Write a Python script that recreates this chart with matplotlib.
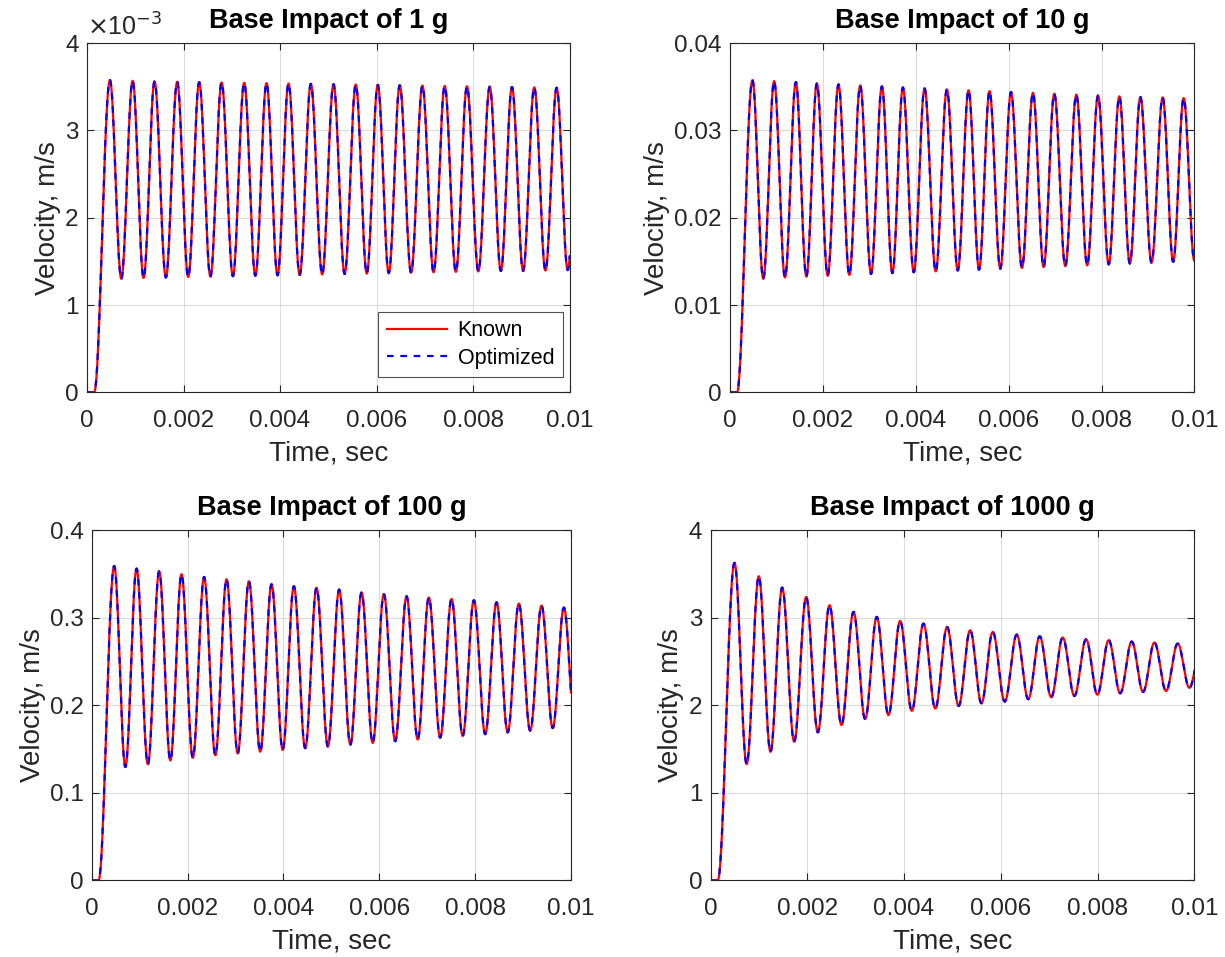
import numpy as np
import matplotlib
matplotlib.use("Agg")
import matplotlib.pyplot as plt

plt.rcParams['font.family'] = ['Liberation Sans', 'DejaVu Sans']

# values (time in ms, velocity in m/s)
# each panel: time when the curve leaves zero, peak times, peak values, trough values
# (trough i lies between peak i and peak i+1; the last peak is just past 0.01 s)
onset_1g = 0.15
t_peak_1g = [0.476, 0.946, 1.400, 1.869, 2.325, 2.789, 3.257, 3.720, 4.176, 4.638, 5.108,
             5.569, 6.025, 6.480, 6.950, 7.412, 7.873, 8.344, 8.805, 9.267, 9.731, 10.19]
v_peak_1g = [3.576e-3, 3.568e-3, 3.561e-3, 3.557e-3, 3.553e-3, 3.549e-3, 3.545e-3, 3.541e-3,
             3.537e-3, 3.533e-3, 3.529e-3, 3.525e-3, 3.521e-3, 3.517e-3, 3.513e-3, 3.509e-3,
             3.505e-3, 3.501e-3, 3.497e-3, 3.493e-3, 3.489e-3, 3.485e-3]
v_trough_1g = [1.30e-3, 1.31e-3, 1.315e-3, 1.32e-3, 1.325e-3, 1.33e-3, 1.335e-3, 1.34e-3,
               1.345e-3, 1.35e-3, 1.355e-3, 1.36e-3, 1.365e-3, 1.37e-3, 1.375e-3, 1.38e-3,
               1.385e-3, 1.39e-3, 1.39e-3, 1.395e-3, 1.40e-3]

onset_10g = 0.15
t_peak_10g = [0.481, 0.948, 1.416, 1.869, 2.334, 2.802, 3.269, 3.722, 4.188, 4.670, 5.136,
              5.588, 6.050, 6.523, 6.983, 7.457, 7.925, 8.384, 8.836, 9.317, 9.769, 10.23]
v_peak_10g = [0.03576, 0.03565, 0.03553, 0.03538, 0.03527, 0.03515, 0.03504, 0.03492,
              0.03481, 0.03470, 0.03460, 0.03450, 0.03440, 0.03430, 0.03420, 0.03410,
              0.03400, 0.03390, 0.03383, 0.03378, 0.03370, 0.03365]
v_trough_10g = [0.0130, 0.01315, 0.01325, 0.01335, 0.01345, 0.01355, 0.01365, 0.01375,
                0.01385, 0.01395, 0.01405, 0.01415, 0.01425, 0.01435, 0.01445, 0.01455,
                0.01465, 0.01475, 0.01485, 0.01495, 0.01505]

onset_100g = 0.14
t_peak_100g = [0.466, 0.933, 1.405, 1.871, 2.343, 2.812, 3.278, 3.751, 4.217, 4.691, 5.163,
               5.630, 6.096, 6.570, 7.035, 7.509, 7.975, 8.449, 8.914, 9.388, 9.854, 10.32]
v_peak_100g = [0.3592, 0.3562, 0.3531, 0.3497, 0.3466, 0.3440, 0.3417, 0.3383, 0.3360,
               0.3342, 0.3322, 0.3288, 0.3269, 0.3246, 0.3231, 0.3215, 0.3200, 0.3177,
               0.3162, 0.3139, 0.3116, 0.3100]
v_trough_100g = [0.1295, 0.1326, 0.137, 0.140, 0.143, 0.145, 0.147, 0.149, 0.151, 0.153,
                 0.155, 0.157, 0.159, 0.161, 0.163, 0.165, 0.167, 0.169, 0.171, 0.174, 0.176]

onset_1000g = 0.15
t_peak_1000g = [0.496, 0.998, 1.481, 1.977, 2.459, 2.955, 3.436, 3.919, 4.401, 4.890,
                5.366, 5.833, 6.329, 6.804, 7.279, 7.762, 8.229, 8.705, 9.174, 9.655, 10.14]
v_peak_1000g = [3.627, 3.474, 3.345, 3.238, 3.143, 3.067, 3.010, 2.963, 2.933, 2.895,
                2.857, 2.838, 2.808, 2.789, 2.774, 2.754, 2.743, 2.728, 2.717, 2.705, 2.69]
v_trough_1000g = [1.328, 1.469, 1.584, 1.691, 1.775, 1.843, 1.889, 1.937, 1.963, 1.992,
                  2.023, 2.042, 2.069, 2.092, 2.107, 2.122, 2.137, 2.153, 2.164, 2.20]

x_ticks = [0, 0.002, 0.004, 0.006, 0.008, 0.01]
x_tick_labels = ['0', '0.002', '0.004', '0.006', '0.008', '0.01']

panels = [
    ("Base Impact of 1 g", onset_1g, t_peak_1g, v_peak_1g, v_trough_1g,
     [0, 1e-3, 2e-3, 3e-3, 4e-3], ['0', '1', '2', '3', '4']),
    ("Base Impact of 10 g", onset_10g, t_peak_10g, v_peak_10g, v_trough_10g,
     [0, 0.01, 0.02, 0.03, 0.04], ['0', '0.01', '0.02', '0.03', '0.04']),
    ("Base Impact of 100 g", onset_100g, t_peak_100g, v_peak_100g, v_trough_100g,
     [0, 0.1, 0.2, 0.3, 0.4], ['0', '0.1', '0.2', '0.3', '0.4']),
    ("Base Impact of 1000 g", onset_1000g, t_peak_1000g, v_peak_1000g, v_trough_1000g,
     [0, 1, 2, 3, 4], ['0', '1', '2', '3', '4']),
]

# axes boxes [left, bottom, width, height] in figure fractions
boxes = [[0.071, 0.590, 0.394, 0.365],
         [0.596, 0.590, 0.379, 0.365],
         [0.075, 0.080, 0.391, 0.366],
         [0.580, 0.080, 0.395, 0.366]]


def build_curve(onset, t_peak, v_peak, v_trough):
    # knots at the extrema, joined by half-cosine arcs
    kt = [0.0, onset]
    kv = [0.0, 0.0]
    for i in range(len(t_peak)):
        kt.append(t_peak[i])
        kv.append(v_peak[i])
        if i < len(v_trough):
            kt.append((t_peak[i] + t_peak[i + 1]) / 2)
            kv.append(v_trough[i])
    t = [0.0]
    v = [0.0]
    s = np.linspace(0, 1, 40)[1:]
    for a in range(len(kt) - 1):
        t.extend(kt[a] + (kt[a + 1] - kt[a]) * s)
        v.extend(kv[a] + (kv[a + 1] - kv[a]) * (1 - np.cos(np.pi * s)) / 2)
    return np.array(t) * 1e-3, np.array(v)


dark = '#262626'
fig = plt.figure(figsize=(12.25, 9.57), dpi=100)

for k, (title, onset, tp, vp, vt, yt, ytl) in enumerate(panels):
    ax = fig.add_axes(boxes[k])
    t, v = build_curve(onset, tp, vp, vt)
    ax.plot(t, v, color='red', lw=1.6, label='Known')
    ax.plot(t, v, color='blue', lw=1.6, ls=(0, (3, 3)), label='Optimized')
    ax.set_xlim(0, 0.01)
    ax.set_ylim(yt[0], yt[-1])
    ax.set_xticks(x_ticks)
    ax.set_xticklabels(x_tick_labels)
    ax.set_yticks(yt)
    ax.set_yticklabels(ytl)
    ax.grid(True, color='#dcdcdc', lw=0.8)
    ax.set_axisbelow(True)
    ax.tick_params(direction='in', top=True, right=True, length=5, width=0.8,
                   labelsize=17.5, colors=dark)
    ax.tick_params(axis='x', pad=13)
    ax.tick_params(axis='y', pad=6)
    for sp in ax.spines.values():
        sp.set_color(dark)
        sp.set_linewidth(0.8)
    ax.set_title(title, fontsize=19.5, fontweight='bold', pad=11)
    ax.set_xlabel('Time, sec', fontsize=20, color=dark, labelpad=6)
    ax.set_ylabel('Velocity, m/s', fontsize=20, color=dark, labelpad=3)
    if k == 0:
        ax.text(0.0, 1.008, r'$\times$10$^{-3}$', transform=ax.transAxes,
                fontsize=18, color=dark, ha='left', va='bottom')
        leg = ax.legend(loc='lower right', bbox_to_anchor=(0.986, 0.043), fontsize=15.5,
                        fancybox=False, edgecolor=dark, handlelength=2.8,
                        borderpad=0.4, labelspacing=0.3, handletextpad=0.5,
                        borderaxespad=0)
        leg.get_frame().set_linewidth(0.8)

fig.savefig('out.png', dpi=100)
